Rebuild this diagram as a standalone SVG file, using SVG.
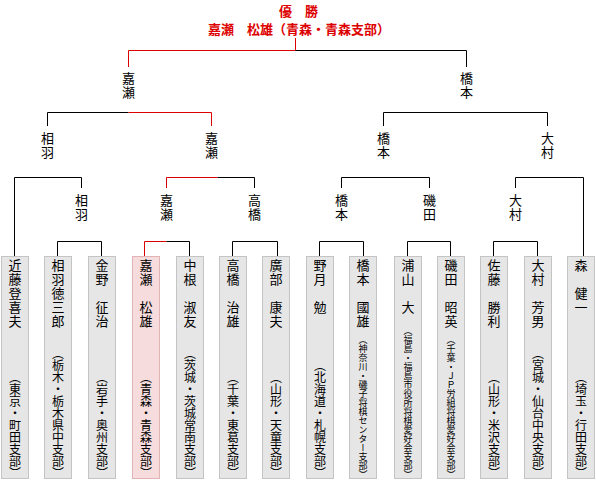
<svg xmlns="http://www.w3.org/2000/svg" width="596" height="480" viewBox="0 0 596 480">
<style>
text { font-family: "Noto Sans CJK JP", "Noto Sans CJK SC", sans-serif; fill: #000; }
.v { writing-mode: vertical-rl; font-size: 13px; letter-spacing: 1px; }
.a { writing-mode: vertical-rl; font-size: 12px; text-anchor: end; }
.s { writing-mode: vertical-rl; font-size: 9px; text-anchor: end; }
.t { font-size: 13px; font-weight: bold; fill: #dd0000; }
.box { fill: #e6e6e6; stroke: #c4c4c4; stroke-width: 1; }
.win { fill: #f6dcdc; stroke: #e0b4b4; stroke-width: 1; }
.k { stroke: #000; stroke-width: 1; fill: none; }
.r { stroke: #dd0000; stroke-width: 1; fill: none; }
</style>
<rect width="596" height="480" fill="#fff"/>
<g id="title">
<text class="t" x="298.5" y="16" text-anchor="middle">優　勝</text>
<text class="t" x="299" y="34" text-anchor="middle">嘉瀬　松雄（青森・青森支部）</text>
</g>
<g id="connectors">
<path class="r" d="M295.5 38V50.5H128.5V67"/>
<path class="k" d="M295.5 50.5H466.5V67"/>
<path class="k" d="M47.5 126V112.5H128.5"/>
<path class="r" d="M128.5 112.5H211.5V126"/>
<path class="k" d="M383.5 126V112.5H547.5V126"/>
<path class="k" d="M14.5 256V177.5H81.5V188"/>
<path class="r" d="M166.5 188V177.5H217.5"/>
<path class="k" d="M217.5 177.5H254.5V188"/>
<path class="k" d="M341.5 188V177.5H429.5V188"/>
<path class="k" d="M515.5 188V177.5H583.5V256"/>
<path class="k" d="M57.5 256V241.5H101.5V256"/>
<path class="r" d="M144.5 256V241.5H166.5"/>
<path class="k" d="M166.5 241.5H189.5V256"/>
<path class="k" d="M232.5 256V241.5H277.5V256"/>
<path class="k" d="M319.5 256V241.5H363.5V256"/>
<path class="k" d="M407.5 256V241.5H450.5V256"/>
<path class="k" d="M493.5 256V241.5H537.5V256"/>
</g>
<g id="r1-kase"><text class="v" x="128.5" y="72">嘉瀬</text></g>
<g id="r1-hashimoto"><text class="v" x="466.5" y="72">橋本</text></g>
<g id="r2-aiba"><text class="v" x="47.5" y="132">相羽</text></g>
<g id="r2-kase"><text class="v" x="211.5" y="132">嘉瀬</text></g>
<g id="r2-hashimoto"><text class="v" x="383.5" y="132">橋本</text></g>
<g id="r2-omura"><text class="v" x="547.5" y="132">大村</text></g>
<g id="r3-aiba"><text class="v" x="81.5" y="194">相羽</text></g>
<g id="r3-kase"><text class="v" x="166.5" y="194">嘉瀬</text></g>
<g id="r3-takahashi"><text class="v" x="254.5" y="194">高橋</text></g>
<g id="r3-hashimoto"><text class="v" x="341.5" y="194">橋本</text></g>
<g id="r3-isoda"><text class="v" x="429.5" y="194">磯田</text></g>
<g id="r3-omura"><text class="v" x="515.5" y="194">大村</text></g>

<g id="p1"><rect class="box" x="1.5" y="256.5" width="27" height="222"/>
<text class="v" x="15" y="259">近藤登喜夫</text>
<text class="a" x="15" y="479">（東京・町田支部）</text></g>
<g id="p2"><rect class="box" x="44.5" y="256.5" width="27" height="222"/>
<text class="v" x="58" y="259">相羽徳三郎</text>
<text class="a" x="58" y="479">（栃木・栃木県中支部）</text></g>
<g id="p3"><rect class="box" x="88.5" y="256.5" width="27" height="222"/>
<text class="v" x="102" y="259">金野　征治</text>
<text class="a" x="102" y="479">（岩手・奥州支部）</text></g>
<g id="p4"><rect class="win" x="132.5" y="256.5" width="27" height="222"/>
<text class="v" x="146" y="259">嘉瀬　松雄</text>
<text class="a" x="146" y="479">（青森・青森支部）</text></g>
<g id="p5"><rect class="box" x="176.5" y="256.5" width="27" height="222"/>
<text class="v" x="190" y="259">中根　淑友</text>
<text class="a" x="190" y="479">（茨城・茨城常南支部）</text></g>
<g id="p6"><rect class="box" x="219.5" y="256.5" width="27" height="222"/>
<text class="v" x="233" y="259">高橋　治雄</text>
<text class="a" x="233" y="479">（千葉・東葛支部）</text></g>
<g id="p7"><rect class="box" x="262.5" y="256.5" width="27" height="222"/>
<text class="v" x="276" y="259">廣部　康夫</text>
<text class="a" x="276" y="479">（山形・天童支部）</text></g>
<g id="p8"><rect class="box" x="306.5" y="256.5" width="27" height="222"/>
<text class="v" x="320" y="259">野月　勉</text>
<text class="a" x="320" y="479">（北海道・札幌支部）</text></g>
<g id="p9"><rect class="box" x="349.5" y="256.5" width="27" height="222"/>
<text class="v" x="363" y="259">橋本　國雄</text>
<text class="s" x="363" y="479">（神奈川・磯子将棋センター支部）</text></g>
<g id="p10"><rect class="box" x="394.5" y="256.5" width="27" height="222"/>
<text class="v" x="408" y="259">浦山　大</text>
<text class="s" x="408" y="479">（福島・福島市役所将棋愛好会支部）</text></g>
<g id="p11"><rect class="box" x="437.5" y="256.5" width="27" height="222"/>
<text class="v" x="451" y="259">磯田　昭英</text>
<text class="s" x="451" y="479">（千葉・ＪＰ労組将棋愛好会支部）</text></g>
<g id="p12"><rect class="box" x="480.5" y="256.5" width="27" height="222"/>
<text class="v" x="494" y="259">佐藤　勝利</text>
<text class="a" x="494" y="479">（山形・米沢支部）</text></g>
<g id="p13"><rect class="box" x="524.5" y="256.5" width="27" height="222"/>
<text class="v" x="538" y="259">大村　芳男</text>
<text class="a" x="538" y="479">（宮城・仙台中央支部）</text></g>
<g id="p14"><rect class="box" x="567.5" y="256.5" width="27" height="222"/>
<text class="v" x="581" y="259">森　健一</text>
<text class="a" x="581" y="479">（埼玉・行田支部）</text></g>
</svg>
